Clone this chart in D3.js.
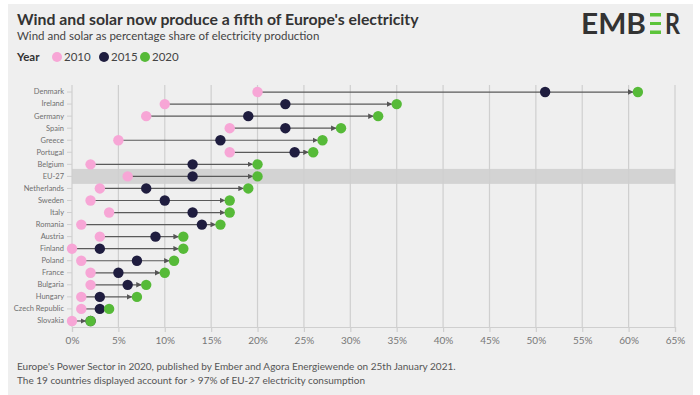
<!doctype html>
<html lang="en">
<head>
  <meta charset="utf-8">
  <title>Wind and solar share</title>
  <style>
    * { margin: 0; padding: 0; box-sizing: border-box; }
    body { background: #fff; }
    #container { width: 700px; height: 395px; }
    text { font-family: Lato, "Open Sans", sans-serif; }
  </style>
</head>
<body>
  <div id="container"></div>
  <script src="https://cdn.jsdelivr.net/npm/d3@7"></script>
  <script>
    // share of wind+solar in electricity production, in %
    const countries = ['Denmark', 'Ireland', 'Germany', 'Spain', 'Greece', 'Portugal', 'Belgium', 'EU-27',
      'Netherlands', 'Sweden', 'Italy', 'Romania', 'Austria', 'Finland', 'Poland', 'France', 'Bulgaria',
      'Hungary', 'Czech Republic', 'Slovakia'];
    const years = ['2010', '2015', '2020'];
    const v2010 = [20, 10, 8, 17, 5, 17, 2, 6, 3, 2, 4, 1, 3, 0, 1, 2, 2, 1, 1, 0];
    const v2015 = [51, 23, 19, 23, 16, 24, 13, 13, 8, 10, 13, 14, 9, 3, 7, 5, 6, 3, 3, 2];
    const v2020 = [61, 35, 33, 29, 27, 26, 20, 20, 19, 17, 17, 16, 12, 12, 11, 10, 8, 7, 4, 2];
    const xTicks = [0, 5, 10, 15, 20, 25, 30, 35, 40, 45, 50, 55, 60, 65];
    const highlight = 'EU-27';

    const colors = {'2010': '#f7a6d6', '2015': '#1f1d3f', '2020': '#56ba38'};

    const data = countries.map((c, i) => ({
      country: c, a: v2010[i], b: v2015[i], c: v2020[i]
    }));

    const W = 700, H = 395;
    const svg = d3.select('#container').append('svg')
      .attr('width', W)
      .attr('height', H);

    svg.append('rect')
      .attr('x', 8).attr('y', 4)
      .attr('width', 685).attr('height', H - 4)
      .attr('fill', '#efefef');

    const plot = {x0: 72, x1: 675, y0: 85, y1: 327};

    const x = d3.scaleLinear().domain([0, 65]).range([plot.x0, plot.x1]);
    const y = d3.scaleBand().domain(countries).range([plot.y0 + 1, plot.y1]).padding(0);
    const cy = d => y(d) + y.bandwidth() / 2;

    // highlight band
    svg.append('rect')
      .attr('x', plot.x0).attr('width', plot.x1 - plot.x0)
      .attr('y', cy(highlight) - 7.5).attr('height', 15)
      .attr('fill', '#d3d3d3');

    // grid
    svg.append('g')
      .selectAll('line')
      .data(xTicks.slice(1))
      .join('line')
      .attr('x1', d => x(d)).attr('x2', d => x(d))
      .attr('y1', plot.y0).attr('y2', plot.y1)
      .attr('stroke', '#cfcfcf')
      .attr('stroke-width', 1.2);

    // x axis
    const xAxis = svg.append('g')
      .attr('transform', `translate(0,${plot.y1})`)
      .call(d3.axisBottom(x).tickValues(xTicks).tickFormat(d => d + '%').tickSize(5).tickPadding(5));
    xAxis.select('.domain').attr('stroke', '#cfcfcf').attr('stroke-width', 1.2);
    xAxis.selectAll('.tick line').attr('stroke', '#cfcfcf').attr('stroke-width', 1.2);
    xAxis.selectAll('text').attr('fill', '#777').style('font-size', '10px');

    // y axis
    const yAxis = svg.append('g')
      .attr('transform', `translate(${plot.x0},0)`)
      .call(d3.axisLeft(y).tickSize(5).tickPadding(3).tickSizeOuter(0));
    yAxis.select('.domain').attr('stroke', '#cfcfcf').attr('stroke-width', 1.2)
      .attr('d', `M0,${plot.y0}V${plot.y1}`);
    yAxis.selectAll('.tick line').attr('stroke', '#cfcfcf');
    yAxis.selectAll('text').attr('fill', '#6f6f6f').style('font-size', '7.5px');

    // arrow marker
    svg.append('defs').append('marker')
      .attr('id', 'arrow')
      .attr('viewBox', '0 0 10 10')
      .attr('refX', 9).attr('refY', 5)
      .attr('markerWidth', 5.5).attr('markerHeight', 5.5)
      .attr('markerUnits', 'userSpaceOnUse')
      .attr('orient', 'auto')
      .append('path')
      .attr('d', 'M0,0L10,5L0,10z')
      .attr('fill', '#555');

    const rows = svg.append('g').selectAll('g')
      .data(data)
      .join('g');

    rows.filter(d => d.c - d.a > 1)
      .append('line')
      .attr('x1', d => x(d.a))
      .attr('x2', d => x(d.c) - 5)
      .attr('y1', d => cy(d.country))
      .attr('y2', d => cy(d.country))
      .attr('stroke', '#5a5a5a')
      .attr('stroke-width', 1.2)
      .attr('marker-end', 'url(#arrow)');

    rows.filter(d => d.c - d.a <= 1)
      .append('line')
      .attr('x1', d => x(d.a))
      .attr('x2', d => x(d.c))
      .attr('y1', d => cy(d.country))
      .attr('y2', d => cy(d.country))
      .attr('stroke', '#5a5a5a')
      .attr('stroke-width', 1.2);

    const keys = {'2010': 'a', '2015': 'b', '2020': 'c'};
    years.forEach(yr => {
      rows.append('circle')
        .attr('cx', d => x(d[keys[yr]]))
        .attr('cy', d => cy(d.country))
        .attr('r', 5.2)
        .attr('fill', colors[yr]);
    });

    // titles
    svg.append('text')
      .attr('x', 17).attr('y', 25)
      .attr('fill', '#333')
      .style('font-size', '15.8px').style('font-weight', 'bold')
      .text("Wind and solar now produce a fifth of Europe's electricity");
    svg.append('text')
      .attr('x', 17).attr('y', 40)
      .attr('fill', '#444')
      .style('font-size', '11.5px')
      .text('Wind and solar as percentage share of electricity production');

    // legend
    const lg = svg.append('g').attr('transform', 'translate(17,61)');
    lg.append('text').attr('x', 0).attr('y', 0)
      .attr('fill', '#333').style('font-size', '11.5px').style('font-weight', 'bold')
      .text('Year');
    const legX = [40, 87, 128];
    years.forEach((yr, i) => {
      lg.append('circle').attr('cx', legX[i]).attr('cy', -4).attr('r', 5).attr('fill', colors[yr]);
      lg.append('text').attr('x', legX[i] + 7).attr('y', 0)
        .attr('fill', '#444').style('font-size', '11.5px').text(yr);
    });

    // footer
    svg.append('text')
      .attr('x', 17).attr('y', 370)
      .attr('fill', '#555').style('font-size', '10px')
      .text("Europe's Power Sector in 2020, published by Ember and Agora Energiewende on 25th January 2021.");
    svg.append('text')
      .attr('x', 17).attr('y', 384)
      .attr('fill', '#555').style('font-size', '10px')
      .text('The 19 countries displayed account for > 97% of EU-27 electricity consumption');

    // logo
    const logo = svg.append('g').attr('transform', 'translate(581,34)');
    logo.append('text').attr('x', 0).attr('y', 0)
      .attr('fill', '#333').style('font-size', '28px').style('font-weight', 'bold')
      .attr('textLength', 65).attr('lengthAdjust', 'spacingAndGlyphs')
      .text('EMB');
    [[-21, 3.5], [-12, 3], [-3.5, 3.5]].forEach(b => {
      logo.append('rect').attr('x', 69).attr('y', b[0]).attr('width', 11).attr('height', b[1])
        .attr('fill', '#5cc43a');
    });
    logo.append('text').attr('x', 84).attr('y', 0)
      .attr('fill', '#333').style('font-size', '28px').style('font-weight', 'bold')
      .attr('textLength', 15).attr('lengthAdjust', 'spacingAndGlyphs')
      .text('R');
  </script>
</body>
</html>
